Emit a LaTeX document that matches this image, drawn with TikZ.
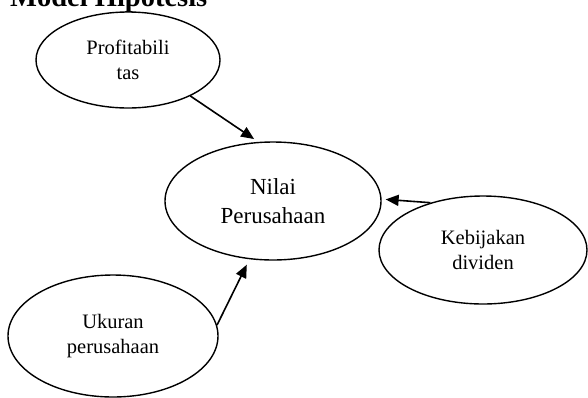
\documentclass[tikz,border=0pt]{standalone}
\usepackage{fontspec}
\setmainfont{Liberation Serif}
\usetikzlibrary{shapes.geometric,arrows.meta}

\begin{document}
\begin{tikzpicture}[x=1pt, y=-1pt,
    var/.style={draw, ellipse, line width=1.4pt, inner sep=0pt, align=center,
        font=\fontsize{20.5}{25}\selectfont},
    link/.style={line width=1.6pt, -{Triangle[length=13pt,width=11pt]}}]
    \useasboundingbox (0,0) rectangle (588,397);

    % Title (cut at the top)
    \node[anchor=base west, inner sep=0pt, font=\fontsize{28.5}{34}\selectfont\bfseries]
        (title) at (10, 6) {Model Hipotesis};

    % Variables
    \node[var, minimum width=184pt, minimum height=96pt] (prof) at (128, 60)
        {Profitabili\\tas};
    \node[var, minimum width=216pt, minimum height=118pt,
        font=\fontsize{23}{29}\selectfont] (nilai) at (273, 201)
        {Nilai\\Perusahaan};
    \node[var, minimum width=208pt, minimum height=108pt] (kebij) at (483, 250)
        {Kebijakan\\dividen};
    \node[var, minimum width=210pt, minimum height=122pt] (ukuran) at (113, 336)
        {Ukuran\\perusahaan};

    % Hypothesised effects
    \draw[link, shorten >=5pt] (prof.-30) -- (nilai.104);
    \draw[link, shorten >=4pt] (kebij.138) -- (nilai.1.5);
    \draw[link, shorten >=6pt] (ukuran.6) -- (nilai.248);
\end{tikzpicture}
\end{document}
